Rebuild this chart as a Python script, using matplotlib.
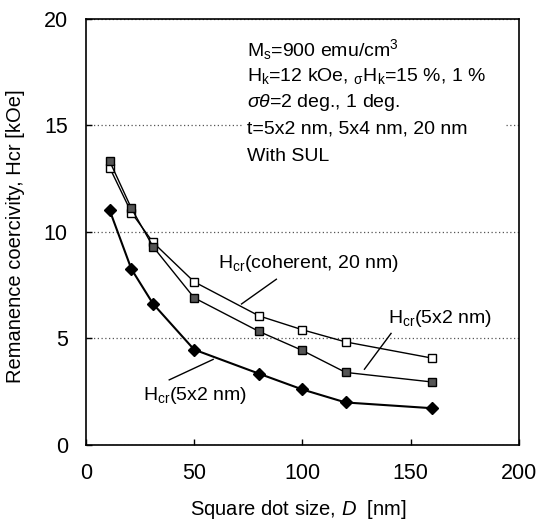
import matplotlib
matplotlib.use('Agg')
import matplotlib.pyplot as plt
from matplotlib.patches import Rectangle

plt.rcParams['font.family'] = ['Liberation Sans', 'DejaVu Sans']
plt.rcParams['mathtext.fontset'] = 'custom'
plt.rcParams['mathtext.rm'] = 'Liberation Sans'
plt.rcParams['mathtext.it'] = 'Liberation Sans:italic'

# dot size D [nm]
dot_size = [11, 21, 31, 50, 80, 100, 120, 160]
# remanence coercivity [kOe]
hcr_coherent = [13.0, 10.9, 9.5, 7.65, 6.05, 5.4, 4.83, 4.07]
hcr_5x4 = [13.3, 11.1, 9.3, 6.9, 5.32, 4.43, 3.4, 2.95]
hcr_5x2 = [11.0, 8.25, 6.62, 4.47, 3.34, 2.6, 1.99, 1.72]

xticks = [0, 50, 100, 150, 200]
yticks = [0, 5, 10, 15, 20]

fig = plt.figure(figsize=(5.37, 5.29), dpi=100)
ax = fig.add_axes([0.160, 0.159, 0.806, 0.806])

ax.set_xlim(0, 200)
ax.set_ylim(0, 20)
ax.set_xticks(xticks)
ax.set_yticks(yticks)
ax.tick_params(direction='in', length=4, width=1, labelsize=15.5, pad=13)
for s in ax.spines.values():
    s.set_linewidth(1.2)

ax.set_axisbelow(True)
ax.yaxis.grid(True, linestyle=(0, (1, 2)), color='#555555', linewidth=0.9)

# white panel behind the parameter list
ax.add_patch(Rectangle((0.363, 0.656), 0.605, 0.300, transform=ax.transAxes,
                       facecolor='white', edgecolor='none', zorder=1))

ax.plot(dot_size, hcr_coherent, color='black', lw=1.0, marker='s', ms=6,
        mfc='white', mec='black', mew=1.0, zorder=3)
ax.plot(dot_size, hcr_5x4, color='black', lw=1.0, marker='s', ms=6,
        mfc='#555555', mec='black', mew=1.0, zorder=3)
ax.plot(dot_size, hcr_5x2, color='black', lw=1.5, marker='D', ms=6.5,
        mfc='black', mec='black', zorder=3)

fs = 14
params = [
    r'M$_\mathregular{s}$=900 emu/cm$^\mathregular{3}$',
    r'H$_\mathregular{k}$=12 kOe, $_\mathregular{\sigma}$H$_\mathregular{k}$=15 %, 1 %',
    r'$\sigma\theta$=2 deg., 1 deg.',
    't=5x2 nm, 5x4 nm, 20 nm',
    'With SUL',
]
ypos = [18.55, 17.3, 16.05, 14.8, 13.55]
for txt, yy in zip(params, ypos):
    ax.text(74.3, yy, txt, fontsize=fs, va='center', ha='left', zorder=2)

# curve labels with leader lines
ax.text(60.9, 8.5, r'H$_\mathregular{cr}$(coherent, 20 nm)', fontsize=fs,
        va='center', ha='left', zorder=4)
ax.plot([88.0, 71.9], [7.77, 6.61], color='black', lw=1.0, zorder=4)

ax.text(139.5, 5.94, r'H$_\mathregular{cr}$(5x2 nm)', fontsize=fs,
        va='center', ha='left', zorder=4)
ax.plot([141.0, 128.7], [5.23, 3.55], color='black', lw=1.0, zorder=4)

ax.text(26.5, 2.34, r'H$_\mathregular{cr}$(5x2 nm)', fontsize=fs,
        va='center', ha='left', zorder=4)
ax.plot([58.8, 38.5], [4.01, 3.05], color='black', lw=1.0, zorder=4)

ax.set_xlabel(r'Square dot size, $\mathit{D}$  [nm]', fontsize=14.5)
ax.set_ylabel('Remanence coercivity, Hcr [kOe]', fontsize=14.5)
ax.xaxis.set_label_coords(0.49, -0.125)
ax.yaxis.set_label_coords(-0.14, 0.49)

fig.savefig('out.png', dpi=100)
